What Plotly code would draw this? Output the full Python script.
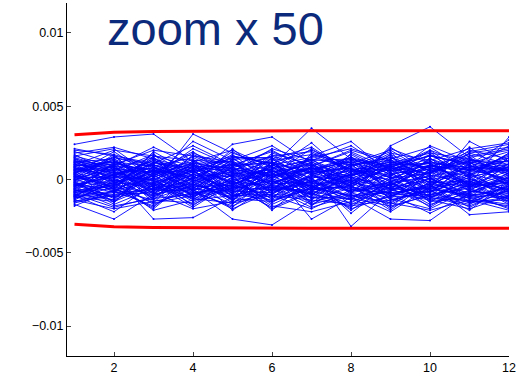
import plotly.graph_objects as go

# x positions (lags)
x_vals = list(range(1, 13))

# blue series values, in units of 1e-4
series_e4 = [
    [24, 29, 31, 12, 5, -3, 8, 2, -6, 10, 4, 7],
    [-17, -27, -10, 4, -8, 12, -5, 3, 9, -2, -11, -6],
    [10, 8, -4, 31, 18, 9, 35, 14, 6, 11, -3, 29],
    [-5, 3, -27, -26, -12, 2, 7, -32, -8, 5, 12, -4],
    [6, -9, 12, 3, 24, 29, 11, -5, 23, 36, 15, 20],
    [-12, 4, 8, -7, -27, -31, -14, 6, -10, -3, -24, -22],
    [3, 14, -6, 9, -3, 5, -27, -12, -27, -28, -9, 2],
    [15, -2, 7, -11, 13, -8, 16, 26, 4, -6, 26, 12],
    [-8, 11, -3, 6, -14, 10, -2, 8, -13, 7, -4, 15],
    [20, 17, 9, 15, 2, 14, 22, 5, 18, 13, 21, 25],
    [-14, -20, -15, -9, -18, -6, -19, -11, -16, -21, -14, -18],
    [2, -5, 10, -1, 7, -12, 4, -9, 11, 0, -7, 3],
    [9, 12, 4, 18, 8, 16, 3, 13, -2, 17, 9, 6],
    [-3, 1, -13, -4, -9, 3, -11, -2, -15, -6, -1, -10],
    [13, 6, 17, 2, 11, -4, 9, 19, 7, 14, 3, 18],
    [-10, -14, -2, -17, -5, -19, -8, -14, -3, -12, -18, -7],
    [0, 8, -8, 7, -2, 9, -6, 4, 12, -4, 10, -2],
    [18, 22, 14, 7, 16, 11, 20, 9, 15, 6, 13, 10],
    [-6, -11, 3, -14, 4, -9, 1, -17, -5, -13, 2, -14],
    [7, 3, 13, -6, 10, 1, 14, -3, 8, 19, -5, 9],
    [-1, 16, -5, 11, -10, 7, -13, 10, -7, 3, -12, 5],
    [11, -7, 19, 4, 17, -2, 6, 15, 1, 9, 17, -3],
    [-15, -8, -18, -3, -13, -15, -4, -20, -11, -8, -16, -12],
    [4, 19, 1, 14, -6, 18, 10, -6, 14, 22, 6, 16],
    [-9, -3, -11, 1, -16, -1, -16, 2, -19, -10, -6, -15],
    [16, 9, 22, 10, 4, 13, 17, 11, 20, 4, 18, 22],
    [-2, -13, 5, -12, 1, -16, 3, -8, -2, -17, -9, 1],
    [8, 5, -1, 16, 12, 6, -9, 18, 5, 12, 8, 13],
    [-11, 0, -7, -8, -19, 4, -7, -4, -21, -1, -13, -8],
    [5, -16, 9, -2, 3, -7, 12, 1, -4, 8, 0, -5],
    [12, 14, 2, 21, 9, 20, 5, 14, 10, 16, 11, 19],
    [-7, -18, -13, -10, -4, -11, -20, -7, -9, -14, -20, -11],
    [1, 7, 15, -5, 14, 2, 8, -10, 16, -3, 7, 0],
    [-13, -5, -20, 2, -11, -4, -10, -16, -1, -19, -3, -17],
    [19, 11, 6, 12, 20, 8, 13, 3, 11, 18, 14, 8],
    [-4, 2, 0, -15, -1, -13, -3, -1, -12, 1, -15, -1],
    [14, -1, 11, 8, 6, 16, 19, 7, 3, 10, 5, 17],
    [-16, -10, -9, -20, -15, -10, -12, -18, -14, -7, -10, -20],
    [6, 13, -2, 5, 15, -5, 2, 12, -7, 15, -8, 11],
    [-8, -4, 6, -9, -7, 15, -17, -3, 9, -16, 4, -9],
    [10, 20, 16, 13, -4, 10, 15, 21, 13, 2, 20, 14],
    [-12, -15, -4, -7, -20, -8, -1, -13, -18, -11, -17, -3],
    [3, -6, 18, -13, 9, -14, 18, 6, 2, 20, 1, -12],
    [-5, 10, -16, 10, -12, 12, -8, 16, -9, -5, 13, 4],
    [17, 4, 10, 1, 19, 5, 10, -2, 17, 6, 16, 21],
    [-3, -12, 1, -18, 2, -17, -5, -11, -6, -18, -2, -16],
    [9, 1, 13, 6, -9, 17, 4, 9, 19, -9, 11, 6],
    [-10, -19, -12, -1, -14, 0, -15, -9, -17, -4, -19, -6],
    [1, 17, -8, 17, 7, 3, 21, 4, 0, 13, -6, 15],
    [-18, -7, -14, -16, -3, -20, -9, -19, 1, -15, -12, -19],
    [7, -2, 4, 11, 12, -10, 6, 13, 9, 4, 22, 3],
    [-6, 6, -10, -5, -17, 8, -18, 1, -20, 7, -8, -10],
    [12, 10, 20, 16, 5, 21, 13, 23, 6, 17, 2, 18],
    [-2, -9, 3, -11, 0, -6, -4, -14, 7, -12, -4, -2],
    [4, 15, 8, 0, 16, 11, -11, 10, 15, 0, 18, 10],
    [-14, -1, -17, -6, -10, -14, -6, -5, -13, -20, -7, -13],
    [15, 7, 5, 19, 1, 7, 25, 2, 21, 11, 8, 23],
    [-1, -17, -6, 3, -21, -3, -2, -21, -3, -7, -21, -1],
    [8, 2, 14, -8, 14, 14, 0, 17, 3, 23, 12, 7],
    [-9, 12, -1, -13, -6, 1, -13, -6, -16, -2, -1, -15],
    [21, 16, 11, 23, 10, 19, 9, 20, 12, 8, 19, 24],
    [-4, -6, -19, 4, -8, -9, 2, -1, -10, -23, -10, 0],
    [2, 9, 7, -3, 21, -1, 16, 7, -4, 14, 6, 13],
    [-11, -22, -3, -19, -2, -18, -22, -15, -7, -13, -14, -21],
    [13, -4, 16, 9, 8, 4, 11, -4, 22, 5, 15, 2],
    [0, 3, -11, -2, -13, 6, -6, 11, -14, -8, 0, -7],
    [16, 21, 2, 26, 13, 23, 7, 15, 8, 20, 10, 27],
    [-7, -14, 9, -8, 3, -21, 1, -23, -2, 2, -16, -4],
    [5, 11, -7, 7, -15, 12, -10, 3, 17, -11, 7, 8],
    [-13, -2, -21, -14, -11, -5, -17, -10, -22, -5, -13, -17],
    [3, -8, 6, 2, -5, 4, -3, 7, -1, 5, -6, 1],
    [-5, 5, -3, -6, 8, -2, 5, -4, 3, -7, 4, -3],
    [8, -1, 2, 9, -3, 6, -1, 3, 8, -2, 9, 4],
    [-2, 7, -9, 1, 5, -8, 9, -7, -2, 10, -3, -6],
    [11, 4, -4, 7, 3, 10, 1, 6, 12, 3, -2, 11],
    [-9, -6, 1, -10, -2, -4, -9, 0, -6, -9, 3, -8],
    [6, 12, 9, -4, 11, 1, 7, 12, 4, 7, 14, 5],
    [-12, -9, -7, 0, -9, -12, 0, -12, -8, 1, -10, -12],
    [1, -3, 12, 5, -1, 8, -5, 5, 10, -5, 1, 9],
    [-4, 3, -5, -12, 6, -3, 10, -9, -4, 9, -5, -2],
    [14, 8, 3, 11, 7, 2, 12, -1, 7, 12, 6, 15],
    [-7, -12, -8, -3, -12, -7, -7, -5, -11, -4, -12, -5],
    [2, 1, 6, -8, 9, 12, 4, 8, -3, 2, 8, -1],
    [-10, -4, -16, -11, -6, -1, -12, -13, 2, -14, -8, -11],
    [9, 15, 10, 3, 2, 7, 14, 10, 13, 8, 2, 7],
    [0, -7, -2, 8, -7, 0, -4, -2, -7, -1, -5, 4],
    [-15, -11, -6, -13, -16, -11, -14, -17, -12, -10, -15, -14],
    [5, 9, -10, 13, 12, -6, 6, 1, 9, 16, 10, -4],
    [-3, -15, 4, -5, -4, 9, -8, 4, -11, -3, -9, 2],
    [12, 3, 8, 0, 15, 15, -2, 11, 1, 4, 13, 12],
    [-6, 0, -12, 6, -11, -10, 3, -7, 5, -12, -1, -9],
    [7, 13, 0, 10, 0, 3, 8, -5, 10, 11, -4, 6],
    [-11, -8, 7, -7, -1, -15, -6, -11, -9, -6, -11, -13],
    [4, -5, 15, -1, 4, 5, 13, 14, -5, 0, 5, 8],
    [-1, 10, -14, 12, -8, -5, -10, 2, 14, -9, 12, -5],
    [10, 6, 5, 6, 10, 11, 5, 8, 6, 9, 7, 10],
    [-8, -2, -5, -9, -5, -7, -2, -8, -4, -11, -2, -7],
]

# red bound lines (actual units)
upper_bound = [0.00305, 0.00322, 0.00328, 0.0033, 0.00331, 0.00331,
               0.00332, 0.00332, 0.00332, 0.00332, 0.00332, 0.00332]
lower_bound = [-0.00305, -0.00322, -0.00328, -0.0033, -0.00331, -0.00331,
               -0.00332, -0.00332, -0.00332, -0.00332, -0.00332, -0.00332]

y_tick_vals = [-0.01, -0.005, 0, 0.005, 0.01]
y_tick_text = ["\u22120.01", "\u22120.005", "0", "0.005", "0.01"]
x_tick_vals = [2, 4, 6, 8, 10, 12]

title_text = "zoom x 50"

fig = go.Figure()
for s in series_e4:
    fig.add_trace(go.Scatter(
        x=x_vals, y=[v * 1e-4 for v in s], mode="lines+markers",
        line=dict(color="#0000ff", width=0.9),
        marker=dict(color="#0000ff", size=2),
        showlegend=False, hoverinfo="skip"))
for b in (upper_bound, lower_bound):
    fig.add_trace(go.Scatter(
        x=x_vals, y=b, mode="lines",
        line=dict(color="#ff0000", width=3),
        showlegend=False, hoverinfo="skip"))

axis_font = dict(family="Liberation Sans, Arial, sans-serif", size=12.5, color="#000000")
fig.update_layout(
    width=528, height=379,
    margin=dict(l=67, r=19, t=3, b=23),
    paper_bgcolor="white", plot_bgcolor="white",
    font=axis_font,
    xaxis=dict(range=[0.81, 12], tickvals=x_tick_vals, ticks="inside", ticklen=4,
               showline=True, linecolor="black", linewidth=1, showgrid=False,
               zeroline=False, tickfont=axis_font, mirror=False),
    yaxis=dict(range=[-0.01204, 0.01204], tickvals=y_tick_vals, ticktext=y_tick_text,
               ticks="inside", ticklen=4, showline=True, linecolor="black",
               linewidth=1, showgrid=False, zeroline=False, tickfont=axis_font),
    annotations=[dict(
        text=title_text, xref="paper", yref="paper", x=0.085, y=0.929,
        xanchor="left", yanchor="middle", showarrow=False,
        font=dict(family="Liberation Sans, Arial, sans-serif", size=47, color="#0b2a7c"))],
)

fig.write_html("out.html", config={"displayModeBar": False},
               post_script="document.body.style.margin='0px';")
